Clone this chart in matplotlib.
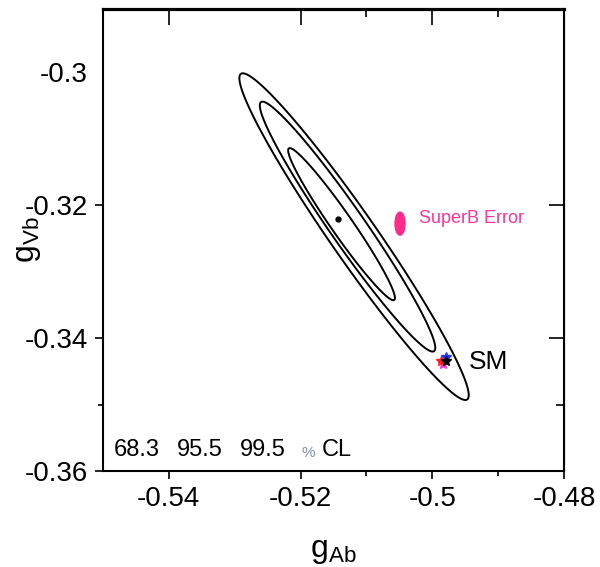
import numpy as np
import matplotlib
matplotlib.use("Agg")
import matplotlib.pyplot as plt
from matplotlib.patches import Ellipse

plt.rcParams['font.family'] = ['Liberation Sans', 'DejaVu Sans']
plt.rcParams['mathtext.fontset'] = 'custom'
plt.rcParams['mathtext.rm'] = 'Liberation Sans'

# fit result
best_x, best_y = -0.5143, -0.3221
sig_x, sig_y, rho = 0.00535, 0.00755, -0.97
cl_levels = [68.3, 95.5, 99.5]
# contour centres drift a bit with CL
cont_cx = [-0.51378, -0.51287, -0.51188]
cont_cy = [-0.32286, -0.32323, -0.32474]

# SM points (overlapping predictions)
sm_x = [-0.49841, -0.49873, -0.49791, -0.49799]
sm_y = [-0.34391, -0.34341, -0.34281, -0.34338]
sm_col = ['#ff33cc', '#ff2020', '#2030ff', 'black']

# SuperB expected error
sb_x, sb_y = -0.50490, -0.32278
sb_dx, sb_dy = 0.00076, 0.00173

xticks_major = [-0.54, -0.52, -0.50, -0.48]
xticks_minor = [-0.51, -0.49]
xtick_labels = ['-0.54', '-0.52', '-0.5', '-0.48']
yticks_major = [-0.36, -0.34, -0.32, -0.30]
yticks_minor = [-0.35]
ytick_labels = ['-0.36', '-0.34', '-0.32', '-0.3']

fig = plt.figure(figsize=(6, 5.67), dpi=100)
ax = fig.add_axes([0.1717, 0.1693, 0.7683, 0.8147])

gx = np.linspace(-0.55, -0.48, 600)
gy = np.linspace(-0.36, -0.29, 600)
X, Y = np.meshgrid(gx, gy)
for cx, cy, cl in zip(cont_cx, cont_cy, cl_levels):
    dx = (X - cx) / sig_x
    dy = (Y - cy) / sig_y
    chi2 = (dx**2 - 2*rho*dx*dy + dy**2) / (1 - rho**2)
    lev = -2*np.log(1 - cl/100.)
    ax.contour(X, Y, chi2, levels=[lev], colors='k', linewidths=1.4)

ax.plot(best_x, best_y, 'o', color='k', ms=3.5)

for x, y, c in zip(sm_x, sm_y, sm_col):
    ax.plot(x, y, '*', color=c, ms=7, mec=c)
ax.text(-0.49438, -0.34356, 'SM', fontsize=19, va='center', ha='left')

ax.add_patch(Ellipse((sb_x, sb_y), 2*sb_dx, 2*sb_dy, color='#ff2a8a'))
ax.text(-0.50197, -0.3220, 'SuperB Error', fontsize=13, color='#ff3399',
        va='center', ha='left')

# CL legend
ax.text(0.0224, 0.0455, '68.3', transform=ax.transAxes, fontsize=17, va='center')
ax.text(0.1611, 0.0455, '95.5', transform=ax.transAxes, fontsize=17, va='center')
ax.text(0.2972, 0.0455, '99.5', transform=ax.transAxes, fontsize=17, va='center')
ax.text(0.4310, 0.040, '%', transform=ax.transAxes, fontsize=11, va='center', color='#8090b0')
ax.text(0.4744, 0.0455, 'CL', transform=ax.transAxes, fontsize=17, va='center')

ax.set_xlim(-0.55, -0.48)
ax.set_ylim(-0.36, -0.2905)
ax.set_xticks(xticks_major)
ax.set_xticklabels(xtick_labels)
ax.set_xticks(xticks_minor, minor=True)
ax.set_yticks(yticks_major)
ax.set_yticklabels(ytick_labels)
ax.set_yticks(yticks_minor, minor=True)
ax.tick_params(which='major', direction='out', length=5.8, width=1.2, labelsize=20, pad=5)
ax.tick_params(which='minor', direction='out', length=3.3, width=1.2)
ax.yaxis.get_major_ticks()[3].tick1line.set_visible(False)
for s in ax.spines.values():
    s.set_linewidth(1.5)
ax.spines['top'].set_linewidth(2.3)

# inward ticks on top / right
top = ax.secondary_xaxis('top')
top.set_xticks([-0.54, -0.52, -0.50])
top.set_xticks(xticks_minor, minor=True)
top.tick_params(which='major', direction='in', length=11.5, width=1.2, labeltop=False)
top.tick_params(which='minor', direction='in', length=5.8, width=1.2)
right = ax.secondary_yaxis('right')
right.set_yticks([-0.34, -0.32])
right.set_yticks(yticks_minor, minor=True)
right.tick_params(which='major', direction='in', length=11, width=1.2, labelright=False)
right.tick_params(which='minor', direction='in', length=5.5, width=1.2)
right.set_yticklabels([])
top.set_xticklabels([])

ax.set_xlabel(r'$\mathregular{g_{Ab}}$', fontsize=23)
ax.set_ylabel(r'$\mathregular{g_{Vb}}$', fontsize=23)
ax.xaxis.set_label_coords(0.5, -0.14)
ax.yaxis.set_label_coords(-0.13, 0.50)

fig.savefig('out.png', dpi=100)
